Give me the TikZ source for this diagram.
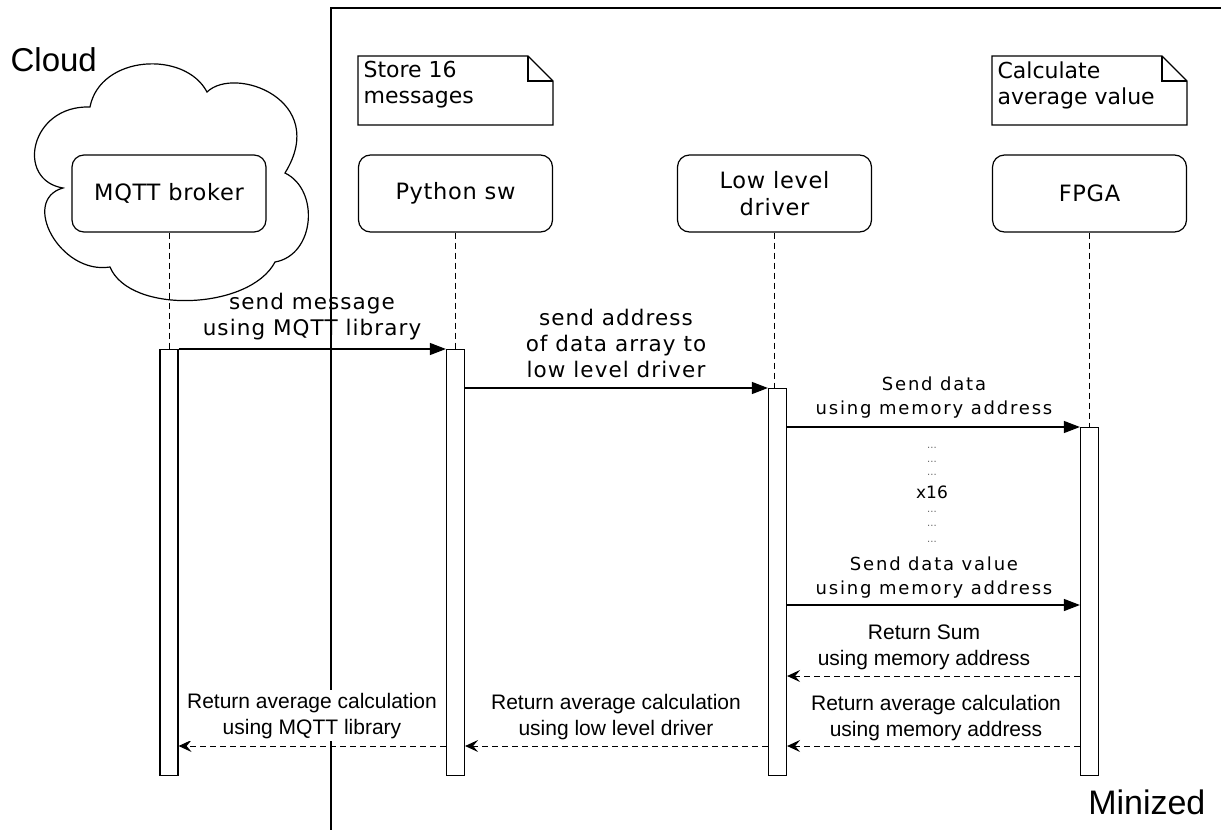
\documentclass[tikz,border=0pt]{standalone}
\usepackage{fontspec}
\setmainfont{DejaVu Sans}
\newfontfamily\arialfont{Liberation Sans}
\newfontfamily\headfont[LetterSpace=3]{DejaVu Sans}
\newfontfamily\msgfont[LetterSpace=5]{DejaVu Sans}
\newfontfamily\smallmsgfont[LetterSpace=10]{DejaVu Sans}
\usetikzlibrary{arrows.meta,calc}

\begin{document}
\begin{tikzpicture}[x=1pt,y=-1pt,line width=1.2pt,
  head/.style={draw,rounded corners=12pt,fill=white,minimum width=194pt,
    minimum height=77pt,align=center,inner sep=0pt,
    font=\headfont\fontsize{22.5}{27}\selectfont},
  bar/.style={draw,fill=white,minimum width=18pt,inner sep=0pt,anchor=north},
  life/.style={line width=1pt,dash pattern=on 6pt off 4pt},
  call/.style={-{Triangle[length=16pt,width=12pt]}},
  reply/.style={line width=1pt,dash pattern=on 6pt off 4pt,
    -{Stealth[length=13pt,width=12pt,inset=5pt]}},
  lbl/.style={anchor=south,align=center,inner sep=0pt,
    font=\msgfont\fontsize{21.5}{26}\selectfont},
  slbl/.style={anchor=south,align=center,inner sep=0pt,
    font=\smallmsgfont\fontsize{18}{24}\selectfont},
  rlbl/.style={anchor=south,align=center,inner sep=0pt,
    font=\arialfont\fontsize{21}{26}\selectfont},
  notebox/.style={line width=1.2pt},
  notetext/.style={anchor=north west,align=left,inner sep=0pt,
    font=\fontsize{22}{26}\selectfont},
  dots/.style={inner sep=0pt,text=black!60,font=\fontsize{10}{10}\selectfont},
]
\useasboundingbox (0,0) rectangle (1221,830);

% board frame
\draw (331,830) -- (331,8) -- (1221,8);
\node[anchor=east,inner sep=0pt,font=\arialfont\fontsize{34}{34}\selectfont]
  (boardlbl) at (1206,802) {Minized};

% cloud around the broker
\draw (90,107) .. controls (100,55) and (185,50) .. (207,92)
  .. controls (235,65) and (330,100) .. (285,173)
  .. controls (320,190) and (315,255) .. (275,262)
  .. controls (250,310) and (130,315) .. (110,267)
  .. controls (60,275) and (20,200) .. (63,188)
  .. controls (15,180) and (30,105) .. cycle;
\node[anchor=west,inner sep=0pt,font=\arialfont\fontsize{33}{33}\selectfont]
  (cloudlbl) at (10,60) {Cloud};

% lifeline heads
\node[head] (mqtt) at (169,193.5) {MQTT broker};
\node[head] (py)   at (455.5,193.5) {Python sw};
\node[head] (lld)  at (774.5,193.5) {Low level\\driver};
\node[head] (fpga) at (1089.5,193.5) {FPGA};

% activation bars
\node[bar,minimum height=426pt] (amqtt) at (169,349) {};
\node[bar,minimum height=426pt] (apy)   at (455.5,349) {};
\node[bar,minimum height=387pt] (alld)  at (777.5,388) {};
\node[bar,minimum height=348pt] (afpga) at (1089.5,427) {};

% lifelines
\draw[life] (mqtt.south) -- (amqtt.north);
\draw[life] (py.south) -- (apy.north);
\draw[life] (lld.south) -- (lld.south |- alld.north);
\draw[life] (fpga.south) -- (afpga.north);

% notes
\draw[notebox] (358,56) -- (528,56) -- (553,81) -- (553,125) -- (358,125) -- cycle;
\draw[notebox] (528,56) -- (528,81) -- (553,81);
\node[notetext] (n1) at (363,61) {Store 16\\messages};
\draw[notebox] (992,56) -- (1162,56) -- (1187,81) -- (1187,125) -- (992,125) -- cycle;
\draw[notebox] (1162,56) -- (1162,81) -- (1187,81);
\node[notetext] (n2) at (997,61) {Calculate\\average value};

% message levels
\coordinate (m1) at (0,349);
\coordinate (m2) at (0,388);
\coordinate (m3) at (0,427);
\coordinate (m4) at (0,605);
\coordinate (m5) at (0,676);
\coordinate (m6) at (0,746);

% calls
\draw[call] (amqtt.east |- m1) -- (apy.west |- m1);
\node[lbl] (l1) at (312,341) {send message\\using MQTT library};
\draw[call] (apy.east |- m2) -- (alld.west |- m2);
\node[lbl] (l2) at (616,378) {send address\\of data array to\\low level driver};
\draw[call] (alld.east |- m3) -- (afpga.west |- m3);
\node[slbl] (l3) at (934,419) {Send data\\using memory address};
\draw[call] (alld.east |- m4) -- (afpga.west |- m4);
\node[slbl] (l4) at (934,599) {Send data value\\using memory address};

% repetition marks
\node[dots] (d1) at (932,448) {...};
\node[dots] (d2) at (932,462) {...};
\node[dots] (d3) at (932,475) {...};
\node[inner sep=0pt,font=\fontsize{17}{17}\selectfont] (rep) at (932,492) {x16};
\node[dots] (d4) at (932,512) {...};
\node[dots] (d5) at (932,526) {...};
\node[dots] (d6) at (932,542) {...};

% replies
\draw[reply] (afpga.west |- m5) -- (alld.east |- m5);
\node[rlbl] (l5) at (924,670) {Return Sum\\using memory address};
\draw[reply] (afpga.west |- m6) -- (alld.east |- m6);
\node[rlbl] (l6) at (936,741) {Return average calculation\\using memory address};
\draw[reply] (alld.west |- m6) -- (apy.east |- m6);
\node[rlbl] (l7) at (616,740) {Return average calculation\\using low level driver};
\draw[reply] (apy.west |- m6) -- (amqtt.east |- m6);
\node[rlbl,fill=white,inner ysep=3pt,inner xsep=0pt] (l8) at (312,742)
  {Return average calculation\\using MQTT library};
\end{tikzpicture}
\end{document}
